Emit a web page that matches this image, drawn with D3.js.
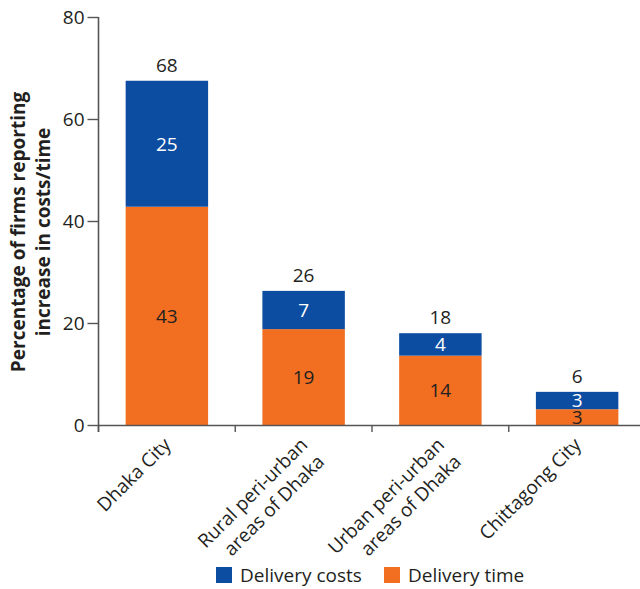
<!DOCTYPE html>
<html>
<head>
<meta charset="utf-8">
<script src="https://cdn.jsdelivr.net/npm/d3@7"></script>
<style>
  html, body { margin: 0; padding: 0; background: #fff; }
  svg { display: block; }
  text { font-family: "Open Sans", Lato, sans-serif; }
</style>
</head>
<body>
<svg id="chart" width="640" height="589"></svg>
<script>
// ---- data ----
const categories = ["Dhaka City", "Rural peri-urban areas of Dhaka", "Urban peri-urban areas of Dhaka", "Chittagong City"];
const categoryLines = [["Dhaka City"], ["Rural peri-urban", "areas of Dhaka"], ["Urban peri-urban", "areas of Dhaka"], ["Chittagong City"]];
const deliveryTime = [42.8, 18.8, 13.6, 3.1];
const deliveryCosts = [24.7, 7.5, 4.4, 3.4];
const timeLabels = ["43", "19", "14", "3"];
const costLabels = ["25", "7", "4", "3"];
const totalLabels = ["68", "26", "18", "6"];
const yTicks = [0, 20, 40, 60, 80];
const seriesNames = ["Delivery costs", "Delivery time"];

const BLUE = "#0c4da2", ORANGE = "#f26f21", INK = "#231f20";
const FS = 19;

const svg = d3.select("#chart");
const y = d3.scaleLinear().domain([0, 80]).range([425, 17]);
const p = 0.397;
const x = d3.scaleBand().domain(categories).range([98.5, 645.5]).paddingInner(p).paddingOuter(p / 2);
const color = d3.scaleOrdinal().domain(seriesNames).range([BLUE, ORANGE]);

const rows = categories.map((c, i) => ({ cat: c, time: deliveryTime[i], costs: deliveryCosts[i] }));

// bars
const g = svg.append("g");
rows.forEach((d, i) => {
  g.append("rect").attr("x", x(d.cat)).attr("width", x.bandwidth())
    .attr("y", y(d.time)).attr("height", y(0) - y(d.time)).attr("fill", color("Delivery time"));
  g.append("rect").attr("x", x(d.cat)).attr("width", x.bandwidth())
    .attr("y", y(d.time + d.costs)).attr("height", y(d.time) - y(d.time + d.costs)).attr("fill", color("Delivery costs"));
  const cx = x(d.cat) + x.bandwidth() / 2;
  g.append("text").attr("x", cx).attr("y", (y(0) + y(d.time)) / 2).attr("dy", "0.36em")
    .attr("text-anchor", "middle").attr("font-size", FS).attr("fill", INK).text(timeLabels[i]);
  g.append("text").attr("x", cx).attr("y", (y(d.time) + y(d.time + d.costs)) / 2).attr("dy", "0.36em")
    .attr("text-anchor", "middle").attr("font-size", FS).attr("fill", "#fff").text(costLabels[i]);
  g.append("text").attr("x", cx).attr("y", y(d.time + d.costs) - 9)
    .attr("text-anchor", "middle").attr("font-size", FS).attr("fill", INK).text(totalLabels[i]);
});

// y axis
const ya = svg.append("g").attr("transform", "translate(98.5,0)")
  .call(d3.axisLeft(y).tickValues(yTicks).tickSize(11).tickSizeOuter(0).tickPadding(3));
ya.select(".domain").attr("stroke", "#555").attr("stroke-width", 1.6).attr("d", "M0,17V432");
ya.selectAll(".tick line").attr("stroke", "#555").attr("stroke-width", 1.4);
ya.selectAll(".tick text").attr("font-size", FS).attr("fill", INK).attr("font-family", "'Open Sans', sans-serif");

// x axis
const xa = svg.append("g");
xa.append("line").attr("x1", 98).attr("x2", 640).attr("y1", 425.5).attr("y2", 425.5)
  .attr("stroke", "#555").attr("stroke-width", 1.6);
categories.forEach(c => {
  const tx = x(c) - x.step() * p / 2;
  xa.append("line").attr("x1", tx).attr("x2", tx).attr("y1", 425).attr("y2", 432)
    .attr("stroke", "#555").attr("stroke-width", 1.4);
});
categories.forEach((c, i) => {
  const cx = x(c) + x.bandwidth() / 2 + 5;
  const t = xa.append("text").attr("transform", `translate(${cx},446) rotate(-45)`)
    .attr("text-anchor", "end").attr("font-size", FS).attr("fill", INK);
  categoryLines[i].forEach((ln, k) => {
    t.append("tspan").attr("x", 0).attr("dy", k === 0 ? 0 : 24).text(ln);
  });
});

// y title
svg.append("text").attr("transform", "translate(30,232) rotate(-90)")
  .attr("text-anchor", "middle").attr("font-size", 19).attr("font-weight", "bold").attr("fill", INK)
  .selectAll("tspan").data(["Percentage of firms reporting", "increase in costs/time"]).join("tspan")
  .attr("x", 0).attr("dy", (d, k) => k === 0 ? "-0.25em" : "1.3em").text(d => d);

// legend
const legX = [216, 384];
seriesNames.forEach((s, i) => {
  svg.append("rect").attr("x", legX[i]).attr("y", 567).attr("width", 16).attr("height", 16).attr("fill", color(s));
  svg.append("text").attr("x", legX[i] + 24).attr("y", 582).attr("font-size", FS).attr("fill", INK).text(s);
});
</script>
</body>
</html>
